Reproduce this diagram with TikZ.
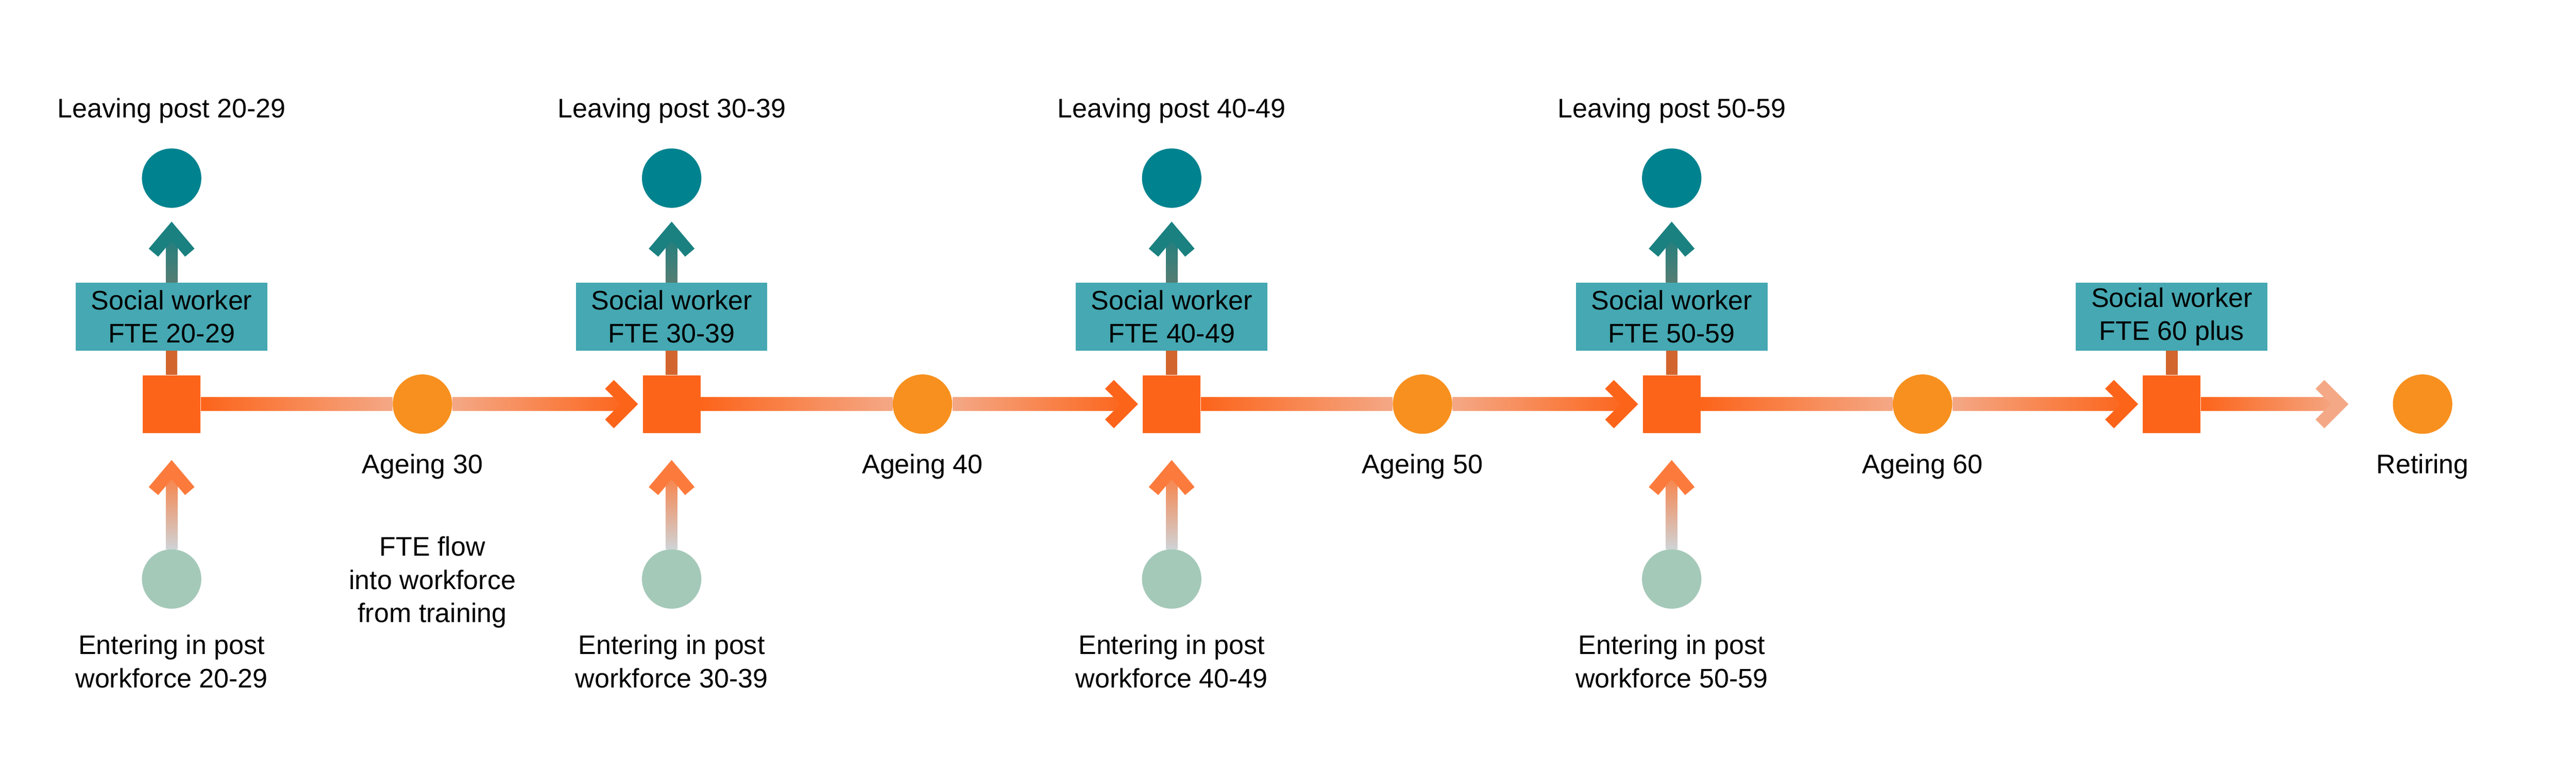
\documentclass[tikz,border=0pt]{standalone}
\usepackage{fontspec}
\setmainfont{Liberation Sans}
\usetikzlibrary{calc, shapes.geometric}
\definecolor{sqorange}{HTML}{FC641A}
\definecolor{ageorange}{HTML}{F7901E}
\definecolor{fadeorange}{HTML}{F4A886}
\definecolor{boxteal}{HTML}{45A8B2}
\definecolor{leaveteal}{HTML}{00838F}
\definecolor{darkteal}{HTML}{1A8080}
\definecolor{greyteal}{HTML}{557D73}
\definecolor{entergreen}{HTML}{A5C9B9}
\definecolor{entergrey}{HTML}{CFD3D6}
\definecolor{stemorange}{HTML}{D2652E}
\tikzstyle{stock} = [rectangle, minimum width=1.4cm, minimum height=1.4cm, inner sep=0, fill=sqorange]
\tikzstyle{ageing} = [circle, minimum size=1.44cm, inner sep=0, fill=ageorange]
\tikzstyle{leaving} = [circle, minimum size=1.44cm, inner sep=0, fill=leaveteal]
\tikzstyle{entering} = [circle, minimum size=1.44cm, inner sep=0, fill=entergreen]
\tikzstyle{label} = [rectangle, minimum width=4.64cm, minimum height=1.64cm, inner sep=0, fill=boxteal, align=center, font=\fontsize{18.5}{23}\selectfont]
\tikzstyle{txt} = [align=center, font=\fontsize{18.5}{23}\selectfont]
\tikzstyle{chevron} = [line width=0.3cm, miter limit=10]
\begin{document}
\begin{tikzpicture}[x=0.04cm, y=-0.04cm]
    \useasboundingbox (0,0) rectangle (1561,469);
    % columns
    \foreach \i/\x/\a in {1/104/20-29, 2/407/30-39, 3/710/40-49, 4/1013/50-59} {
        \node (sq\i) [stock] at (\x,245) {};
        \node (fte\i) [label] at (\x,192) {Social worker\\FTE \a};
        \node (out\i) [leaving] at (\x,108) {};
        \node (leave\i) [txt] at (\x,67) {Leaving post \a};
        \node (in\i) [entering] at (\x,351) {};
        \node (enter\i) [txt] at (\x,401) {Entering in post\\workforce \a};
        \fill [stemorange] ($(sq\i.north)+(-3.5,0)$) rectangle ($(fte\i.south)+(3.5,0)$);
        \shade [bottom color=greyteal, top color=darkteal] ($(fte\i.north)+(-3.5,0)$) rectangle ($(out\i.south)+(3.5,14)$);
        \draw [chevron, darkteal] ($(out\i.south)+(-11,27)$) -- ($(out\i.south)+(0,14)$) -- ($(out\i.south)+(11,27)$);
        \shade [bottom color=entergrey, top color=sqorange!85!white] ($(in\i.north)+(-3.5,0)$) rectangle ($(sq\i.south)+(3.5,22)$);
        \draw [chevron, sqorange!85!white] ($(sq\i.south)+(-11,35)$) -- ($(sq\i.south)+(0,22)$) -- ($(sq\i.south)+(11,35)$);
    }
    \node (sq5) [stock] at (1316,245) {};
    \node (fte5) [label] at (1316,192) {Social worker\\FTE 60 plus};
    \fill [stemorange] ($(sq5.north)+(-3.5,0)$) rectangle ($(fte5.south)+(3.5,0)$);
    % ageing flow
    \foreach \i/\j/\x/\n in {1/2/256/30, 2/3/559/40, 3/4/862/50, 4/5/1165/60} {
        \node (age\i) [ageing] at (\x,245) {};
        \node (agelab\i) [txt] at (\x,283) {Ageing \n};
        \shade [left color=sqorange, right color=fadeorange] ($(sq\i.east)+(0,-4)$) rectangle ($(age\i.west)+(0,4)$);
        \shade [left color=fadeorange, right color=sqorange] ($(age\i.east)+(0,-4)$) rectangle ($(sq\j.west)+(-8,4)$);
        \draw [chevron, sqorange] ($(sq\j.west)+(-20,-12)$) -- ($(sq\j.west)+(-8,0)$) -- ($(sq\j.west)+(-20,12)$);
    }
    \node (retire) [ageing] at (1468,245) {};
    \node (retlab) [txt] at (1468,283) {Retiring};
    \coordinate (rettip) at ($(retire.west)+(-32,0)$);
    \shade [left color=sqorange, right color=fadeorange] ($(sq5.east)+(0,-4)$) rectangle ($(rettip)+(0,4)$);
    \draw [chevron, fadeorange] ($(rettip)+(-12,-12)$) -- (rettip) -- ($(rettip)+(-12,12)$);
    \node (train) [txt] at (262,353) {FTE flow\\into workforce\\from training};
\end{tikzpicture}
\end{document}
